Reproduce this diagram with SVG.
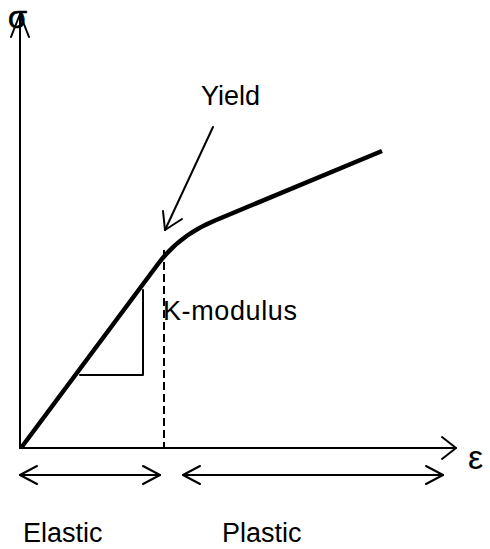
<svg xmlns="http://www.w3.org/2000/svg" width="490" height="549" viewBox="0 0 490 549">
<style>
.ln{fill:none;stroke:#000;stroke-width:2;stroke-linecap:round;stroke-linejoin:round}
.curve{fill:none;stroke:#000;stroke-width:4.5;stroke-linecap:butt}
.t{font-family:"Liberation Sans",Arial,sans-serif;fill:#000}
</style>
<rect width="490" height="549" fill="#fff"/>
<g id="connectors">
  <g id="y-axis">
    <line class="ln" x1="20" y1="448" x2="20" y2="14"/>
    <polyline class="ln" points="11,37 20,14 29,37"/>
  </g>
  <g id="x-axis">
    <line class="ln" x1="20" y1="448" x2="456" y2="448"/>
    <polyline class="ln" points="442,437 456,448 442,459"/>
  </g>
  <g id="elastic-range">
    <line class="ln" x1="20" y1="475" x2="160" y2="475"/>
    <polyline class="ln" points="37,466 20,475 37,484"/>
    <polyline class="ln" points="143,466 160,475 143,484"/>
  </g>
  <g id="plastic-range">
    <line class="ln" x1="183" y1="475" x2="443" y2="475"/>
    <polyline class="ln" points="200,466 183,475 200,484"/>
    <polyline class="ln" points="426,466 443,475 426,484"/>
  </g>
  <line id="yield-divider" x1="164" y1="250" x2="164" y2="448" stroke="#000" stroke-width="2" stroke-dasharray="8,4"/>
  <g id="yield-arrow">
    <line class="ln" x1="213" y1="127" x2="165" y2="230"/>
    <polyline class="ln" points="163,211 165,230 182,219"/>
  </g>
</g>
<g id="stress-strain-curve">
  <path class="curve" d="M21,448 L158,264 Q179.6,235 215,220.5 L382,151"/>
</g>
<g id="slope-triangle">
  <polyline class="ln" points="80,375 143,375 143,290"/>
</g>
<g id="labels">
  <text id="sigma" class="t" x="8" y="28" font-size="31" stroke="#000" stroke-width="0.6">σ</text>
  <text id="epsilon" class="t" x="468" y="469" font-size="34">ε</text>
  <text id="yield" class="t" x="201" y="105" font-size="27">Yield</text>
  <text id="k-modulus" class="t" x="163" y="320" font-size="27" textLength="134">K-modulus</text>
  <text id="elastic" class="t" x="23" y="542" font-size="27">Elastic</text>
  <text id="plastic" class="t" x="222" y="542" font-size="27">Plastic</text>
</g>
</svg>
